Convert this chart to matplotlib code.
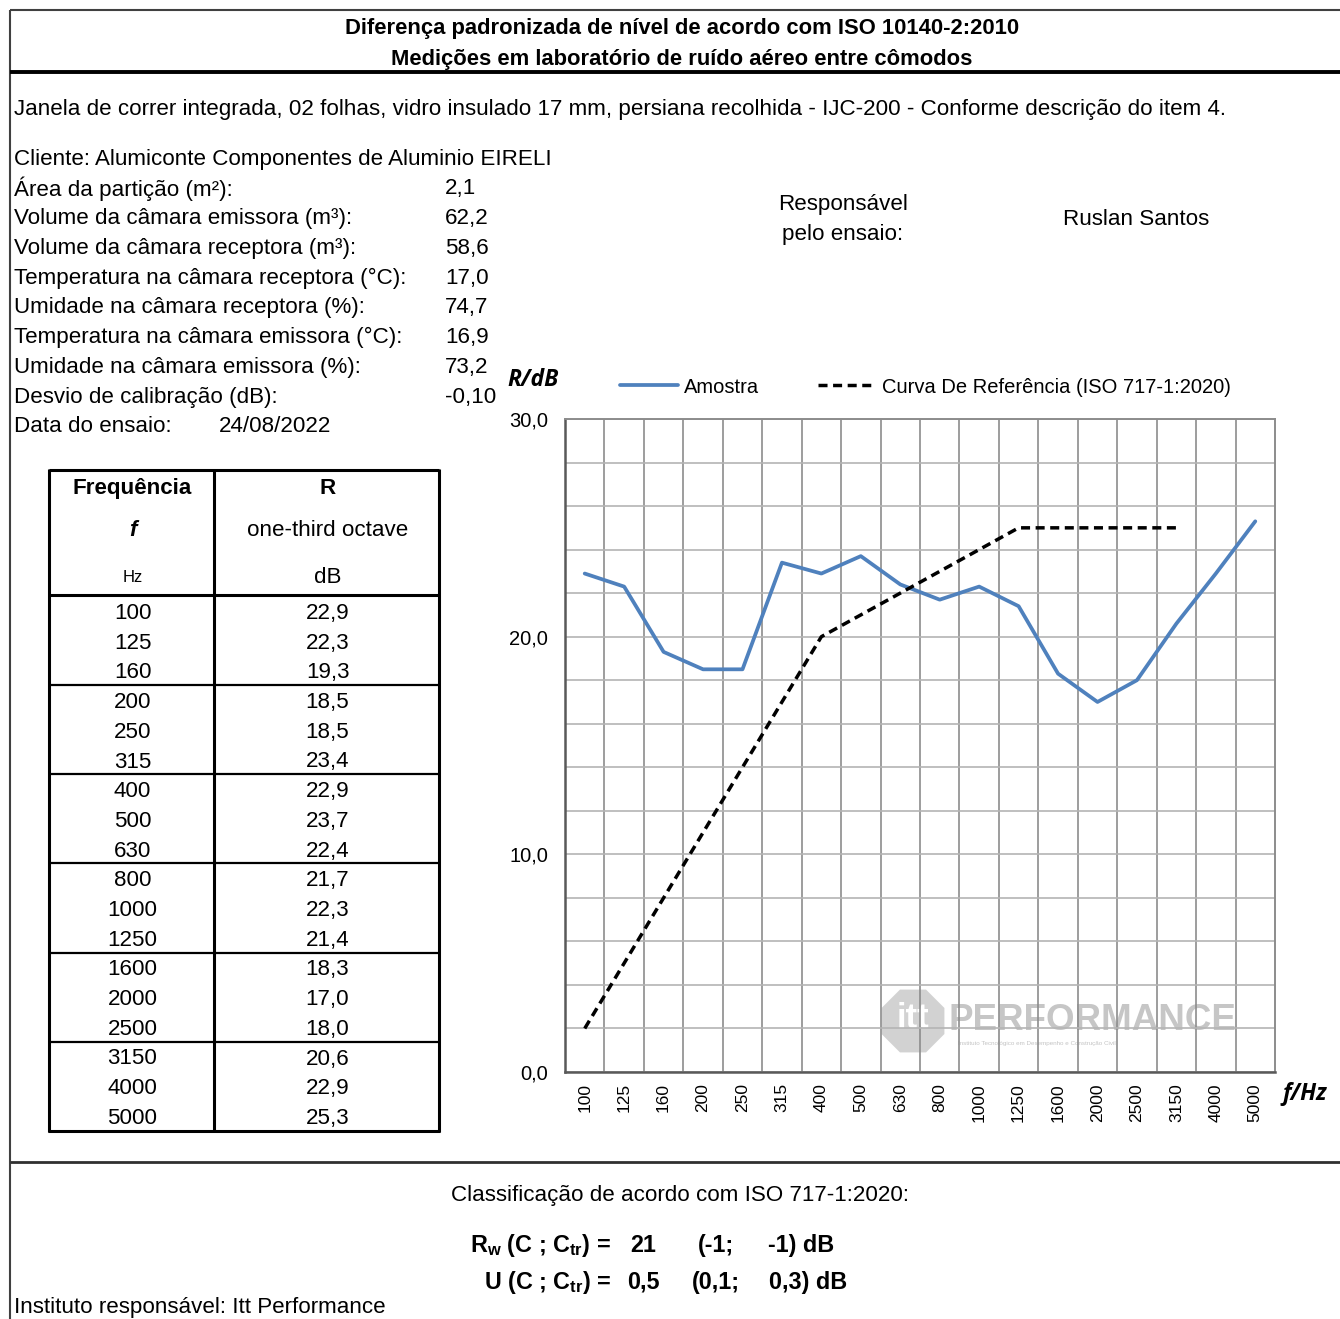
import matplotlib
matplotlib.use("Agg")
import matplotlib.pyplot as plt
from matplotlib.patches import RegularPolygon
from matplotlib.lines import Line2D
from matplotlib.ticker import FuncFormatter, MultipleLocator, FixedLocator

plt.rcParams['font.family'] = ['Liberation Sans', 'DejaVu Sans']
plt.rcParams['mathtext.fontset'] = 'custom'
plt.rcParams['mathtext.rm'] = 'Liberation Sans'
plt.rcParams['mathtext.bf'] = 'Liberation Sans:bold'

# ---------------- data ----------------
freqs = ["100", "125", "160", "200", "250", "315", "400", "500", "630", "800",
         "1000", "1250", "1600", "2000", "2500", "3150", "4000", "5000"]
amostra = [22.9, 22.3, 19.3, 18.5, 18.5, 23.4, 22.9, 23.7, 22.4, 21.7,
           22.3, 21.4, 18.3, 17.0, 18.0, 20.6, 22.9, 25.3]
referencia = [2, 5, 8, 11, 14, 17, 20, 21, 22, 23, 24, 25, 25, 25, 25, 25]

title_lines = ["Diferença padronizada de nível de acordo com ISO 10140-2:2010",
               "Medições em laboratório de ruído aéreo entre cômodos"]
descricao = "Janela de correr integrada, 02 folhas, vidro insulado 17 mm, persiana recolhida - IJC-200 - Conforme descrição do item 4."
cliente = "Cliente: Alumiconte Componentes de Aluminio EIRELI"
info_labels = ["Área da partição (m²):", "Volume da câmara emissora (m³):",
               "Volume da câmara receptora (m³):", "Temperatura na câmara receptora (°C):",
               "Umidade na câmara receptora (%):", "Temperatura na câmara emissora (°C):",
               "Umidade na câmara emissora (%):", "Desvio de calibração (dB):"]
info_values = ["2,1", "62,2", "58,6", "17,0", "74,7", "16,9", "73,2", "-0,10"]
data_ensaio = "24/08/2022"
responsavel = "Ruslan Santos"
rw_values = ["21", "(-1;", "-1) dB"]
u_values = ["0,5", "(0,1;", "0,3) dB"]

W, H = 1340, 1319
fig = plt.figure(figsize=(W / 100, H / 100), dpi=100)
ax0 = fig.add_axes([0, 0, 1, 1])
ax0.set_xlim(0, W)
ax0.set_ylim(H, 0)
ax0.axis('off')

FS = 16.1
DY = 1.5

def txt(x, y, s, **kw):
    kw.setdefault('va', 'center')
    return ax0.text(x, y + DY, s, **kw)

def line(x0, y0, x1, y1, lw=1.5, color='black'):
    ax0.add_line(Line2D([x0, x1], [y0, y1], lw=lw, color=color, solid_capstyle='butt'))

# frame lines
line(10, 10, W, 10, lw=1.5, color='#404040')
line(10, 10, 10, H, lw=1.5, color='#404040')
line(10, 72, W, 72, lw=2.8, color='black')
line(10, 1162, W, 1162, lw=2.0, color='#303030')

# titles
txt(682, 27, title_lines[0], ha='center', fontsize=15.8, fontweight='bold')
txt(682, 58, title_lines[1], ha='center', fontsize=15.8, fontweight='bold')
txt(14, 108, descricao, ha='left', fontsize=FS)

# info block
txt(14, 158, cliente, ha='left', fontsize=FS)
for i, (lab, val) in enumerate(zip(info_labels, info_values)):
    y = 187 + i * 29.85
    txt(14, y, lab, ha='left', fontsize=FS)
    txt(445, y, val, ha='left', fontsize=FS)
txt(14, 425, "Data do ensaio:", ha='left', fontsize=FS)
txt(219, 425, data_ensaio, ha='left', fontsize=FS)

txt(843, 203, "Responsável", ha='center', fontsize=FS)
txt(843, 233, "pelo ensaio:", ha='center', fontsize=FS)
txt(1136, 218, responsavel, ha='center', fontsize=FS)

# table
tl, tm, tr = 49, 214, 439
ttop, thead, tbot = 470, 595, 1131
c1, c2 = (tl + tm) / 2, (tm + tr) / 2 + 1
txt(c1 + 1, 487, "Frequência", ha='center', fontsize=FS, fontweight='bold')
txt(c2, 487, "R", ha='center', fontsize=FS, fontweight='bold')
txt(c1 + 1, 529, "f", ha='center', fontsize=FS, fontweight='bold', fontstyle='italic')
txt(c2, 529, "one-third octave", ha='center', fontsize=FS)
txt(c1 + 1, 576, "Hz", ha='center', fontsize=12)
txt(c2, 576, "dB", ha='center', fontsize=FS)
row_h = 29.7
for i, (f, v) in enumerate(zip(freqs, amostra)):
    y = 612 + i * row_h
    txt(c1 + 1, y, f, ha='center', fontsize=FS)
    txt(c2, y, f"{v:.1f}".replace('.', ','), ha='center', fontsize=FS)
for g in range(2, 17, 3):
    y = 611 + (g + 0.5) * row_h
    line(tl, y, tr, y, lw=1.6)
line(tl, thead, tr, thead, lw=2.2)
line(tl, ttop, tr, ttop, lw=2.2)
line(tl - 1, tbot, tr + 1, tbot, lw=2.2)
line(tl, ttop - 1, tl, tbot + 1, lw=2.2)
line(tr, ttop - 1, tr, tbot + 1, lw=2.2)
line(tm, ttop, tm, tbot, lw=2.2)

# watermark
ax0.add_patch(RegularPolygon((913, 1021), numVertices=8, radius=34, orientation=0.3927,
                             facecolor='#d2d2d2', edgecolor='none', zorder=1))
ax0.text(913, 1019, "itt", ha='center', va='center', fontsize=25, fontweight='bold',
         color='white', zorder=2)
ax0.text(1092, 1021, "PERFORMANCE", ha='center', va='center', fontsize=26.5, fontweight='bold',
         color='#c6c6c6', zorder=1)
ax0.text(1037, 1044, "Instituto Tecnológico em Desempenho e Construção Civil", ha='center',
         va='center', fontsize=4.5, color='#c4c4c4', zorder=1)

# classification
txt(680, 1194, "Classificação de acordo com ISO 717-1:2020:", ha='center', fontsize=FS)
txt(611, 1244, r"R$_\mathbf{w}$ (C ; C$_\mathbf{tr}$) =", ha='right',
    fontsize=16.8, fontweight='bold')
txt(611, 1281, r"U (C ; C$_\mathbf{tr}$) =", ha='right',
    fontsize=16.8, fontweight='bold')
for xs, vals, y in (((630, 698, 768), rw_values, 1244), ((627, 692, 769), u_values, 1281)):
    for x, v in zip(xs, vals):
        txt(x, y, v, ha='left', fontsize=16.8, fontweight='bold')
txt(14, 1306, "Instituto responsável: Itt Performance", ha='left', fontsize=FS)

# ---------------- chart ----------------
pl, pr, pt, pb = 565, 1275, 419, 1072
ax = fig.add_axes([pl / W, 1 - pb / H, (pr - pl) / W, (pb - pt) / H])
ax.set_facecolor('none')
x = list(range(len(freqs)))
ax.plot(x, amostra, color='#4F81BD', lw=2.7, label='Amostra', zorder=3,
        solid_joinstyle='round', solid_capstyle='round')
ax.plot(x[:len(referencia)], referencia, color='black', lw=2.5, linestyle=(0, (2.6, 1.6)),
        label='Curva De Referência (ISO 717-1:2020)', zorder=3)
ax.set_xlim(-0.5, len(freqs) - 0.5)
ax.set_ylim(0, 30)
ax.set_xticks(x)
ax.set_xticklabels(freqs, rotation=90, fontsize=12.5)
ax.yaxis.set_major_locator(MultipleLocator(10))
ax.yaxis.set_minor_locator(MultipleLocator(2))
ax.yaxis.set_major_formatter(FuncFormatter(lambda v, p: f"{v:.1f}".replace('.', ',')))
ax.tick_params(axis='y', which='both', length=0, labelsize=14.5, pad=12)
ax.tick_params(axis='x', which='both', length=0, pad=8)
ax.xaxis.set_minor_locator(FixedLocator([i + 0.5 for i in range(len(freqs) - 1)]))
ax.grid(axis='x', which='minor', color='#8c8c8c', lw=1.2)
ax.grid(axis='y', which='both', color='#b4b4b4', lw=1.2)
ax.set_axisbelow(True)
for s in ('top', 'right'):
    ax.spines[s].set_color('#8c8c8c')
    ax.spines[s].set_linewidth(1.4)
for s in ('left', 'bottom'):
    ax.spines[s].set_color('#595959')
    ax.spines[s].set_linewidth(1.8)

txt(533, 379, "R/dB", ha='center', fontsize=16.5, fontweight='bold',
    fontstyle='italic', family=['Open Sans', 'DejaVu Sans'])
txt(1305, 1093, "f/Hz", ha='center', fontsize=16.5, fontweight='bold',
    fontstyle='italic', family=['Open Sans', 'DejaVu Sans'])

leg = ax.legend(loc='center left', bbox_to_anchor=(620 / W, 1 - 387 / H),
                bbox_transform=fig.transFigure, ncol=2, frameon=False, fontsize=14.5,
                handlelength=2.9, handletextpad=0.3, columnspacing=2.9,
                borderpad=0, borderaxespad=0)

fig.savefig("out.png", dpi=100)
